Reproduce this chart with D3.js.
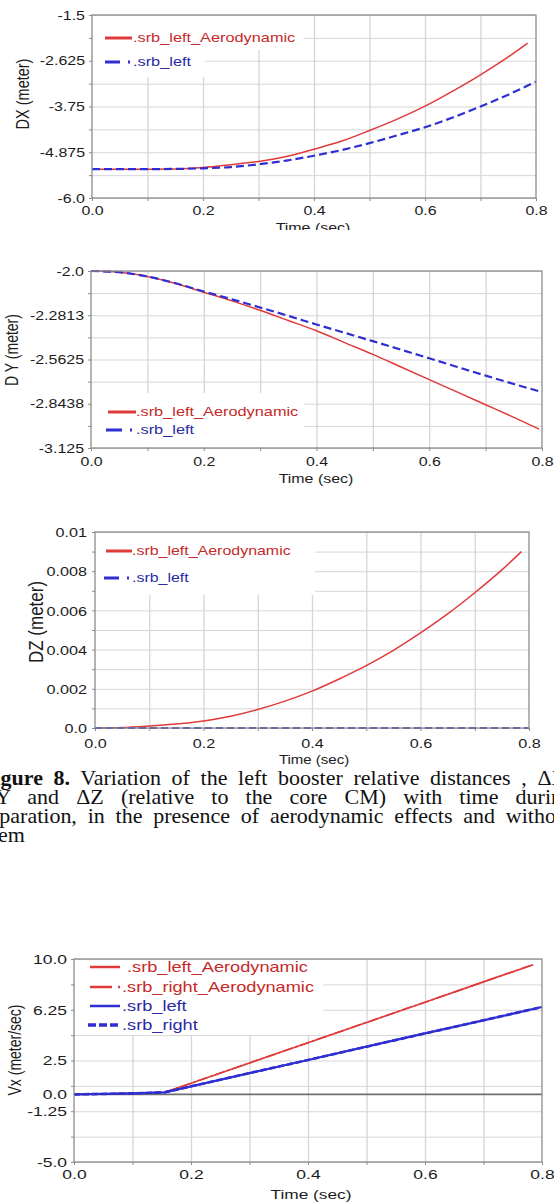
<!DOCTYPE html>
<html>
<head>
<meta charset="utf-8">
<script src="https://cdn.jsdelivr.net/npm/d3@7"></script>
<style>
  html, body { margin: 0; padding: 0; background: #fff; overflow: hidden; }
  svg { display: block; }
</style>
</head>
<body>
<svg id="fig" width="554" height="1203"></svg>
<script>
// ---------- shared time axis ----------
const timeTicks = [0, 0.2, 0.4, 0.6, 0.8];
const timeLabels = ["0.0", "0.2", "0.4", "0.6", "0.8"];
const timeGrid = [0.1, 0.2, 0.3, 0.4, 0.5, 0.6, 0.7];

// ---------- ΔX of the left booster (meter) ----------
const dxTicks = [-1.5, -2.625, -3.75, -4.875, -6.0];
const dxLabels = ["-1.5", "-2.625", "-3.75", "-4.875", "-6.0"];
const dxTimeAero = [0, 0.05, 0.1, 0.15, 0.2, 0.25, 0.3, 0.35, 0.4, 0.45, 0.5, 0.55, 0.6, 0.65, 0.7, 0.75, 0.785];
const dxAero = [-5.29, -5.29, -5.29, -5.285, -5.25, -5.18, -5.10, -4.98, -4.80, -4.60, -4.34, -4.06, -3.74, -3.37, -2.97, -2.53, -2.19];
const dxTime = [0, 0.05, 0.1, 0.15, 0.2, 0.25, 0.3, 0.35, 0.4, 0.45, 0.5, 0.55, 0.6, 0.65, 0.7, 0.75, 0.8];
const dxNoAero = [-5.29, -5.29, -5.29, -5.285, -5.27, -5.24, -5.17, -5.08, -4.96, -4.82, -4.65, -4.46, -4.26, -4.02, -3.75, -3.46, -3.14];

// ---------- ΔY of the left booster (meter) ----------
const dyTicks = [-2.0, -2.28125, -2.5625, -2.84375, -3.125];
const dyLabels = ["-2.0", "-2.2813", "-2.5625", "-2.8438", "-3.125"];
const dyTimeAero = [0, 0.05, 0.1, 0.15, 0.2, 0.25, 0.3, 0.35, 0.4, 0.45, 0.5, 0.55, 0.6, 0.65, 0.7, 0.75, 0.795];
const dyAero = [-2.0, -2.008, -2.035, -2.08, -2.135, -2.19, -2.25, -2.315, -2.38, -2.455, -2.53, -2.61, -2.69, -2.77, -2.85, -2.93, -3.005];
const dyTime = [0, 0.05, 0.1, 0.15, 0.2, 0.25, 0.3, 0.35, 0.4, 0.45, 0.5, 0.55, 0.6, 0.65, 0.7, 0.75, 0.8];
const dyNoAero = [-2.0, -2.008, -2.035, -2.078, -2.13, -2.18, -2.232, -2.285, -2.34, -2.393, -2.446, -2.50, -2.555, -2.61, -2.665, -2.718, -2.77];

// ---------- ΔZ of the left booster (meter) ----------
const dzTicks = [0.01, 0.008, 0.006, 0.004, 0.002, 0.0];
const dzLabels = ["0.01", "0.008", "0.006", "0.004", "0.002", "0.0"];
const dzTimeAero = [0, 0.05, 0.1, 0.15, 0.2, 0.25, 0.3, 0.35, 0.4, 0.45, 0.5, 0.55, 0.6, 0.65, 0.7, 0.75, 0.786];
const dzAero = [0, 0.00002, 0.0001, 0.0002, 0.00036, 0.0006, 0.00094, 0.00137, 0.00188, 0.0025, 0.00318, 0.00396, 0.00485, 0.00582, 0.0069, 0.00807, 0.009];
const dzTime = [0, 0.8];
const dzNoAero = [0, 0];

// ---------- Vx of both boosters (meter/sec) ----------
const vxTicks = [10, 6.25, 2.5, 0, -1.25, -5];
const vxLabels = ["10.0", "6.25", "2.5", "0.0", "-1.25", "-5.0"];
const vxTimeAero = [0, 0.05, 0.1, 0.155, 0.2, 0.3, 0.4, 0.5, 0.6, 0.7, 0.785];
const vxLeftAero = [0, 0.03, 0.07, 0.15, 0.82, 2.32, 3.82, 5.31, 6.81, 8.31, 9.58];
const vxRightAero = [0, 0.03, 0.07, 0.15, 0.82, 2.32, 3.82, 5.31, 6.81, 8.31, 9.58];
const vxTime = [0, 0.05, 0.1, 0.155, 0.2, 0.3, 0.4, 0.5, 0.6, 0.7, 0.8];
const vxLeft = [0, 0.03, 0.07, 0.15, 0.59, 1.57, 2.54, 3.52, 4.5, 5.47, 6.45];
const vxRight = [0, 0.03, 0.07, 0.15, 0.59, 1.57, 2.54, 3.52, 4.5, 5.47, 6.45];

// ---------- caption ----------
const captionLines = [
  [{ t: "Figure 8.", bold: true }, { t: " Variation of the left booster relative distances , \u0394X," }],
  [{ t: "\u0394Y and \u0394Z (relative to the core CM) with time during" }],
  [{ t: "separation, in the presence of aerodynamic effects and without" }],
  [{ t: "them" }]
];

// ---------- styling ----------
const SANS = "'Liberation Sans', Arial, Helvetica, sans-serif";
const SERIF = "'Liberation Serif', 'Times New Roman', serif";
const GRID = "#d6d6d6";
const FRAME = "#8c8c8c";
const RED = "#e03a3a";
const BLUE = "#2e2ed2";
const RED_TXT = "#c62a2a";
const BLUE_TXT = "#2a2aa4";
const INK = "#1c1c1c";

const svg = d3.select("#fig");

// text that is stretched horizontally, as the whole figure is
function sText(parent, str, x, y, o) {
  return parent.append("text")
    .attr("transform", `translate(${x},${y}) scale(${o.sx},1)${o.rot ? ` rotate(${o.rot})` : ""}`)
    .attr("font-family", o.family || SANS)
    .attr("font-size", o.size)
    .attr("fill", o.fill || INK)
    .attr("text-anchor", o.anchor || "start")
    .attr("dy", "0.35em")
    .text(str);
}

function zip(ts, vs) { return ts.map((t, i) => ({ t, v: vs[i] })); }

function drawChart(c) {
  const root = svg.append("g");
  let g = root;
  if (c.clipBottom) {
    const id = "clip" + Math.round(c.top);
    svg.append("defs").append("clipPath").attr("id", id)
      .append("rect").attr("x", 0).attr("y", 0).attr("width", 554).attr("height", c.clipBottom);
    g = root.attr("clip-path", `url(#${id})`);
  }
  const x = d3.scaleLinear().domain([0, 0.8]).range([c.left, c.right]);
  const y = d3.scaleLinear().domain(c.yDomain).range([c.bottom, c.top]);
  const w = c.right - c.left, h = c.bottom - c.top;
  const yGrid = d3.range(c.yDomain[0], c.yDomain[1] + c.yStep / 2, c.yStep);

  // vertical grid
  const vg = g.append("g").attr("transform", `translate(0,${c.bottom})`)
    .call(d3.axisBottom(x).tickValues(timeGrid).tickSize(-h).tickFormat(""));
  vg.select(".domain").remove();
  vg.selectAll("line").attr("stroke", GRID).attr("stroke-width", 1.3);

  // horizontal grid
  const hg = g.append("g").attr("transform", `translate(${c.left},0)`)
    .call(d3.axisLeft(y).tickValues(yGrid).tickSize(-w).tickFormat(""));
  hg.select(".domain").remove();
  hg.selectAll("line").attr("stroke", GRID).attr("stroke-width", 1);

  // small outward ticks
  const lt = g.append("g").attr("transform", `translate(${c.left},0)`)
    .call(d3.axisLeft(y).tickValues(yGrid).tickSize(3).tickFormat(""));
  lt.select(".domain").remove();
  lt.selectAll("line").attr("stroke", FRAME);
  const bt = g.append("g").attr("transform", `translate(0,${c.bottom})`)
    .call(d3.axisBottom(x).tickValues(d3.range(0, 0.81, 0.1)).tickSize(3).tickFormat(""));
  bt.select(".domain").remove();
  bt.selectAll("line").attr("stroke", FRAME);

  // zero reference line
  if (c.zeroLine) {
    g.append("line").attr("x1", c.left).attr("x2", c.right)
      .attr("y1", y(0)).attr("y2", y(0))
      .attr("stroke", "#6f6f6f").attr("stroke-width", 1.6);
  }

  // legend background
  c.legend.bg.forEach(r => {
    g.append("rect").attr("x", r[0]).attr("y", r[1]).attr("width", r[2]).attr("height", r[3])
      .attr("fill", "#fff");
  });

  // series
  const line = d3.line().x(d => x(d.t)).y(d => y(d.v)).curve(c.curve || d3.curveMonotoneX);
  c.series.forEach(s => {
    g.append("path").datum(zip(s.time, s.values))
      .attr("d", line).attr("fill", "none")
      .attr("stroke", s.color).attr("stroke-width", s.width)
      .attr("stroke-dasharray", s.dash || null)
      .attr("stroke-linejoin", "round");
  });

  // plot frame
  g.append("rect").attr("x", c.left).attr("y", c.top).attr("width", w).attr("height", h)
    .attr("fill", "none").attr("stroke", FRAME).attr("stroke-width", 1.3);

  // y tick labels
  const yl = g.append("g").attr("transform", `translate(${c.left},0)`)
    .call(d3.axisLeft(y).tickValues(c.yTicks).tickFormat((d, i) => c.yLabels[i]).tickSize(0));
  yl.select(".domain").remove();
  yl.attr("font-family", SANS).attr("font-size", c.tickSize);
  yl.selectAll("text").attr("fill", INK).attr("dy", "0.35em")
    .attr("x", -c.yPad / c.tickSx).attr("transform", `scale(${c.tickSx},1)`);

  // x tick labels
  const xl = g.append("g").attr("transform", `translate(0,${c.bottom})`)
    .call(d3.axisBottom(x).tickValues(timeTicks).tickFormat((d, i) => timeLabels[i]).tickSize(0));
  xl.select(".domain").remove();
  xl.attr("font-family", SANS).attr("font-size", c.tickSize);
  xl.selectAll("text").attr("fill", INK).attr("y", c.xLabelOff).attr("dy", "0.35em")
    .attr("transform", `scale(${c.tickSx},1)`);

  // axis titles
  sText(g, c.yTitle, c.yTitlePos[0], c.yTitlePos[1],
    { sx: c.titleSx, size: c.yTitleSize, anchor: "middle", rot: -90 });
  sText(g, "Time (sec)", c.xTitlePos[0], c.xTitlePos[1],
    { sx: c.titleSx, size: c.xTitleSize, anchor: "middle" });

  // legend entries
  c.legend.items.forEach((it, i) => {
    const yy = c.legend.rows[i];
    g.append("line").attr("x1", it.x1).attr("x2", it.x2).attr("y1", yy).attr("y2", yy)
      .attr("stroke", it.color).attr("stroke-width", it.width)
      .attr("stroke-dasharray", it.dash || null);
    sText(g, it.label, it.tx, yy, { sx: c.legend.sx, size: c.legend.size, fill: it.textColor });
  });
}

// ---------- ΔX ----------
drawChart({
  left: 92, right: 536, top: 15, bottom: 198, clipBottom: 230,
  yDomain: [-6.0, -1.5], yStep: 0.5625, yTicks: dxTicks, yLabels: dxLabels,
  tickSize: 12, tickSx: 1.33, yPad: 7, xLabelOff: 13,
  yTitle: "DX (meter)", yTitlePos: [22, 94], yTitleSize: 14.5, titleSx: 1.33,
  xTitlePos: [313, 228], xTitleSize: 12,
  series: [
    { time: dxTimeAero, values: dxAero, color: RED, width: 1.5 },
    { time: dxTime, values: dxNoAero, color: BLUE, width: 2.2, dash: "8,4" }
  ],
  legend: {
    rows: [38, 62], size: 12, sx: 1.36,
    bg: [[93, 16, 211, 34], [93, 50, 112, 27]],
    items: [
      { label: ".srb_left_Aerodynamic", x1: 105, x2: 132, tx: 133, color: RED, width: 3, textColor: RED_TXT },
      { label: ".srb_left", x1: 105, x2: 131, tx: 133, color: BLUE, width: 3, dash: "15,8,2", textColor: BLUE_TXT }
    ]
  }
});

// ---------- ΔY ----------
drawChart({
  left: 91, right: 542, top: 271, bottom: 448,
  yDomain: [-3.125, -2.0], yStep: 0.140625, yTicks: dyTicks, yLabels: dyLabels,
  tickSize: 12, tickSx: 1.33, yPad: 7, xLabelOff: 14,
  yTitle: "D Y (meter)", yTitlePos: [11, 350], yTitleSize: 14, titleSx: 1.33,
  xTitlePos: [316, 479], xTitleSize: 12,
  series: [
    { time: dyTimeAero, values: dyAero, color: RED, width: 1.5 },
    { time: dyTime, values: dyNoAero, color: BLUE, width: 2.2, dash: "8,4" }
  ],
  legend: {
    rows: [412, 430], size: 12, sx: 1.36,
    bg: [[92, 393, 212, 54]],
    items: [
      { label: ".srb_left_Aerodynamic", x1: 108, x2: 136, tx: 136, color: RED, width: 3, textColor: RED_TXT },
      { label: ".srb_left", x1: 106, x2: 134, tx: 136, color: BLUE, width: 3, dash: "16,8,2", textColor: BLUE_TXT }
    ]
  }
});

// ---------- ΔZ ----------
drawChart({
  left: 95, right: 529, top: 532, bottom: 728,
  yDomain: [0, 0.01], yStep: 0.001, yTicks: dzTicks, yLabels: dzLabels,
  tickSize: 13.5, tickSx: 1.2, yPad: 8, xLabelOff: 15,
  curve: d3.curveNatural,
  yTitle: "DZ (meter)", yTitlePos: [36, 622], yTitleSize: 17, titleSx: 1.2,
  xTitlePos: [314, 760], xTitleSize: 12.5,
  series: [
    { time: dzTimeAero, values: dzAero, color: RED, width: 1.5 },
    { time: dzTime, values: dzNoAero, color: BLUE, width: 2, dash: "7,4" }
  ],
  legend: {
    rows: [551, 578], size: 12, sx: 1.33,
    bg: [[96, 533, 219, 62]],
    items: [
      { label: ".srb_left_Aerodynamic", x1: 106, x2: 132, tx: 132, color: RED, width: 3, textColor: RED_TXT },
      { label: ".srb_left", x1: 104, x2: 130, tx: 132, color: BLUE, width: 3, dash: "15,8,2", textColor: BLUE_TXT }
    ]
  }
});

// ---------- caption ----------
(function drawCaption() {
  const sx = 1.1, size = 20, x0 = -19, right = 573;
  const base = [785, 804, 823, 842];
  captionLines.forEach((parts, i) => {
    const t = svg.append("text")
      .attr("transform", `translate(${x0},${base[i]}) scale(${sx},1)`)
      .attr("font-family", SERIF).attr("font-size", size).attr("fill", "#111");
    parts.forEach(p => {
      t.append("tspan").attr("font-weight", p.bold ? "bold" : "normal").text(p.t);
    });
    if (i < captionLines.length - 1) {
      const full = parts.map(p => p.t).join("");
      const spaces = (full.match(/ /g) || []).length;
      const natural = t.node().getComputedTextLength();
      const target = (right - x0) / sx;
      if (spaces > 0 && target > natural) t.attr("word-spacing", (target - natural) / spaces);
    }
  });
})();

// ---------- Vx ----------
drawChart({
  left: 74, right: 542, top: 959, bottom: 1162,
  yDomain: [-5, 10], yStep: 1.875, yTicks: vxTicks, yLabels: vxLabels,
  tickSize: 12.5, tickSx: 1.4, yPad: 7, xLabelOff: 13, zeroLine: true,
  curve: d3.curveLinear,
  yTitle: "Vx (meter/sec)", yTitlePos: [14, 1050], yTitleSize: 14, titleSx: 1.33,
  xTitlePos: [311, 1194], xTitleSize: 13,
  series: [
    { time: vxTimeAero, values: vxLeftAero, color: RED, width: 1.6 },
    { time: vxTimeAero, values: vxRightAero, color: RED, width: 1.6, dash: "10,3,2,3" },
    { time: vxTime, values: vxLeft, color: BLUE, width: 2.2 },
    { time: vxTime, values: vxRight, color: BLUE, width: 2.6, dash: "6,3" }
  ],
  legend: {
    rows: [967, 987, 1006, 1025], size: 14, sx: 1.3,
    bg: [[75, 960, 248, 75]],
    items: [
      { label: ".srb_left_Aerodynamic", x1: 90, x2: 120, tx: 127, color: RED, width: 2.5, textColor: RED_TXT },
      { label: ".srb_right_Aerodynamic", x1: 90, x2: 120, tx: 122, color: RED, width: 2.5, dash: "22,6,2", textColor: RED_TXT },
      { label: ".srb_left", x1: 90, x2: 120, tx: 122, color: BLUE, width: 2.5, textColor: BLUE_TXT },
      { label: ".srb_right", x1: 88, x2: 121, tx: 122, color: BLUE, width: 3.5, dash: "8,3", textColor: BLUE_TXT }
    ]
  }
});
</script>
</body>
</html>
